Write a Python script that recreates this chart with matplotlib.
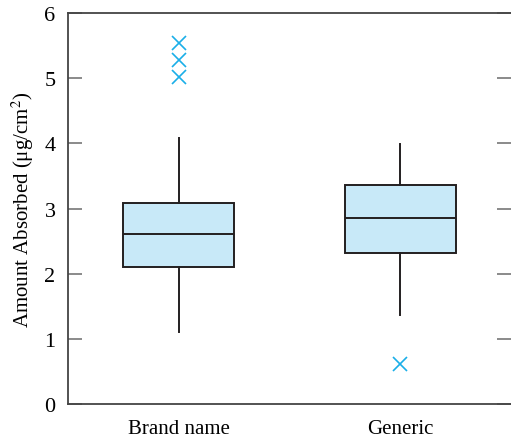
import matplotlib
matplotlib.use("Agg")
import matplotlib.pyplot as plt

plt.rcParams['font.family'] = ['Liberation Serif', 'DejaVu Serif']
plt.rcParams['mathtext.fontset'] = 'stix'

# values
groups = ['Brand name', 'Generic']
q1 = [2.10, 2.32]
medians = [2.61, 2.86]
q3 = [3.08, 3.36]
whislo = [1.10, 1.37]
whishi = [4.08, 3.99]
fliers = [[5.02, 5.28, 5.54], [0.61]]

stats = []
for i in range(len(groups)):
    stats.append({'label': groups[i], 'q1': q1[i], 'med': medians[i], 'q3': q3[i],
                  'whislo': whislo[i], 'whishi': whishi[i], 'fliers': fliers[i]})

fig = plt.figure(figsize=(5.11, 4.39), dpi=100)
ax = fig.add_axes([0.133, 0.077, 0.867, 0.891])

ax.bxp(stats, positions=[1, 2], widths=0.5, patch_artist=True, showcaps=False,
       boxprops=dict(facecolor='#c8e9f8', edgecolor='#231f20', linewidth=1.4),
       medianprops=dict(color='#231f20', linewidth=1.4),
       whiskerprops=dict(color='#231f20', linewidth=1.4),
       flierprops=dict(marker='x', markeredgecolor='#1aaee8', markersize=10,
                       markeredgewidth=1.2, linestyle='none'))

ax.set_xlim(0.5, 2.5)
ax.set_ylim(0, 6)
ax.set_yticks(range(0, 7))
ax.set_xticks([1, 2])
ax.set_xticklabels(groups)
ax.set_ylabel('Amount Absorbed (\u03bcg/cm$^2$)', fontsize=15, labelpad=6)

ax.spines['right'].set_visible(False)
for s in ['left', 'top', 'bottom']:
    ax.spines[s].set_color('#444444')
    ax.spines[s].set_linewidth(1.3)

ax.tick_params(axis='y', direction='in', length=10, width=1.2, color='#777777',
               labelsize=16, left=True, right=True, pad=9)
ax.tick_params(axis='x', length=0, labelsize=15, pad=11)

fig.savefig('out.png', dpi=100)
